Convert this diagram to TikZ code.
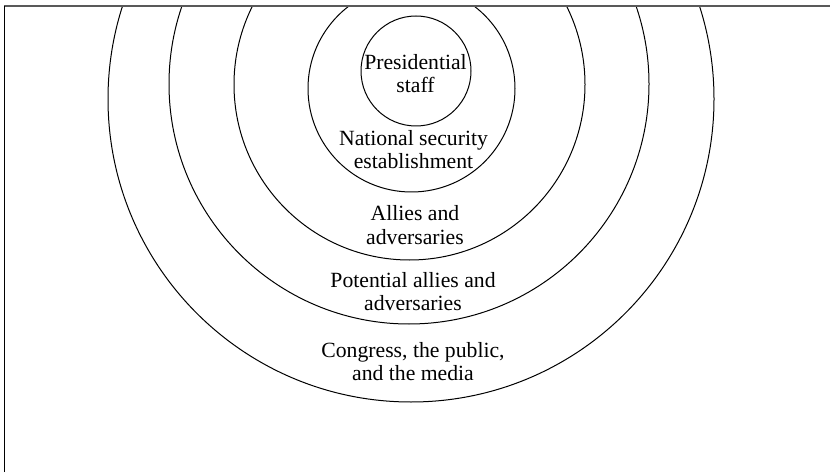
\documentclass[tikz,border=0pt]{standalone}
\usepackage{fontspec}
\setmainfont{Liberation Serif}
\usepackage{tikz}
\usetikzlibrary{calc}

\begin{document}
\begin{tikzpicture}[x=1pt,y=1pt,
  font={\fontsize{21.7pt}{23.5pt}\selectfont},
  ring/.style={line width=1pt},
  lbl/.style={align=center, inner sep=0pt}
  ]
  \useasboundingbox (0,0) rectangle (830,472);
  \coordinate (cstaff) at (416,401);
  \coordinate (cnatsec) at (411.5,383.5);
  \coordinate (callies) at (409.5,387.5);
  \coordinate (cpotential) at (409,388);
  \coordinate (cpublic) at (411,373);

  % rings, cut off at the top edge
  \begin{scope}
    \clip (0,0) rectangle (830,466.3);
    \draw[ring] (cstaff) circle (55);
    \draw[ring] (cnatsec) circle (103.5);
    \draw[ring] (callies) circle (175.5);
    \draw[ring] (cpotential) circle (240);
    \draw[ring] (cpublic) circle (303);
  \end{scope}

  % frame edges
  \draw[gray!70!black, line width=2pt] (4.3,466.3) -- (830,466.3);
  \draw[black, line width=1.3pt] (4.3,0) -- (4.3,466.3);

  % labels
  \node[lbl] (staff) at (415.5,398.5) {Presidential\\staff};
  \node[lbl] (natsec) at (413.5,322.5) {National security\\establishment};
  \node[lbl] (allies) at (415,247) {Allies and\\adversaries};
  \node[lbl] (potential) at (413,180.5) {Potential allies and\\adversaries};
  \node[lbl] (public) at (413,110.5) {Congress, the public,\\and the media};
\end{tikzpicture}
\end{document}
